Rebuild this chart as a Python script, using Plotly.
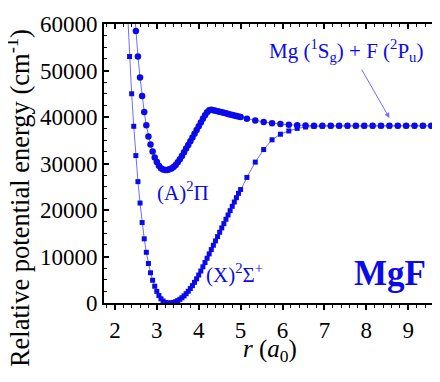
import plotly.graph_objects as go

# X(2Sigma+) state
r_X = [2.30, 2.35, 2.40, 2.45, 2.50, 2.55, 2.60, 2.65, 2.70, 2.75, 2.80, 2.85, 2.90, 2.95,
       3.00, 3.05, 3.10, 3.15, 3.20, 3.25, 3.30, 3.35, 3.40, 3.45, 3.50, 3.55, 3.60, 3.65,
       3.70, 3.75, 3.80, 3.85, 3.90, 3.95, 4.00, 4.05, 4.10, 4.15, 4.20, 4.25, 4.30, 4.35,
       4.40, 4.45, 4.50, 4.55, 4.60, 4.65, 4.70, 4.75, 4.80, 4.85, 4.90, 4.95, 5.00,
       5.15, 5.35, 5.55, 5.75, 5.95, 6.15, 6.35, 6.55, 6.75, 6.95, 7.15, 7.35, 7.55, 7.75,
       7.95, 8.15, 8.35, 8.55, 8.75, 8.95, 9.15, 9.35, 9.55, 9.75]
E_X = [63000, 53000, 45000, 38000, 31700, 26100, 21500, 17300, 13800, 10900, 8500, 6500, 4900, 3600,
       2500, 1600, 900, 420, 130, 15, 0, 30, 130, 290, 510, 790, 1130, 1530,
       2000, 2520, 3100, 3740, 4440, 5200, 6010, 6880, 7780, 8700, 9630, 10560, 11490, 12420,
       13350, 14280, 15210, 16140, 17070, 18000, 18930, 19860, 20790, 21720, 22650, 23580, 24400,
       27000, 30300, 33000, 35100, 36300, 37000, 37550, 37850, 38000, 38050, 38080, 38100, 38100, 38100,
       38100, 38100, 38100, 38100, 38100, 38100, 38100, 38100, 38100, 38100]

# A(2Pi) state
r_A = [2.45, 2.50, 2.55, 2.60, 2.65, 2.70, 2.75, 2.80, 2.85, 2.90, 2.95,
       3.00, 3.05, 3.10, 3.15, 3.20, 3.25, 3.30, 3.35, 3.40, 3.45, 3.50, 3.55, 3.60, 3.65,
       3.70, 3.75, 3.80, 3.85, 3.90, 3.95, 4.00, 4.05, 4.10, 4.15, 4.20, 4.25, 4.30, 4.35,
       4.40, 4.45, 4.50, 4.55, 4.60, 4.65, 4.70, 4.75, 4.80, 4.85, 4.90, 4.95, 5.00,
       5.15, 5.35, 5.55, 5.75, 5.95, 6.15, 6.35, 6.55, 6.75, 6.95, 7.15, 7.35, 7.55, 7.75,
       7.95, 8.15, 8.35, 8.55, 8.75, 8.95, 9.15, 9.35, 9.55, 9.75]
E_A = [65000, 58500, 53000, 48500, 44500, 41100, 38200, 35800, 34100, 32600, 31300,
       30300, 29500, 29000, 28700, 28580, 28620, 28750, 28950, 29250, 29700, 30250, 30900, 31600, 32400,
       33200, 34000, 34800, 35600, 36400, 37200, 38000, 38800, 39600, 40350, 41000, 41450, 41550, 41440,
       41330, 41220, 41110, 41000, 40890, 40780, 40670, 40560, 40450, 40340, 40230, 40120, 40010,
       39600, 39250, 38950, 38650, 38480, 38330, 38230, 38170, 38130, 38110, 38100, 38100, 38100, 38100,
       38100, 38100, 38100, 38100, 38100, 38100, 38100, 38100, 38100, 38100]

x_ticks = [2, 3, 4, 5, 6, 7, 8, 9]
y_ticks = [0, 10000, 20000, 30000, 40000, 50000, 60000]

BLUE = "rgb(10,10,235)"
LINE = "rgb(110,110,255)"
FONT = "Liberation Serif"

fig = go.Figure()
fig.add_trace(go.Scatter(x=r_X, y=E_X, mode="lines+markers",
                         line=dict(color=LINE, width=1),
                         marker=dict(symbol="square", size=5, color=BLUE),
                         showlegend=False, hoverinfo="skip"))
fig.add_trace(go.Scatter(x=r_A, y=E_A, mode="lines+markers",
                         line=dict(color=LINE, width=1),
                         marker=dict(symbol="circle", size=6.5, color=BLUE),
                         showlegend=False, hoverinfo="skip"))
# dummy trace to anchor the top axis
fig.add_trace(go.Scatter(x=[None], y=[None], xaxis="x2", yaxis="y", showlegend=False,
                         hoverinfo="skip"))

xr = [1.74, 9.71]
# page body has an 8px margin, so the figure is 8px smaller on each axis
fig.update_layout(
    width=432, height=374,
    margin=dict(l=96, r=2, t=16, b=79, autoexpand=False),
    paper_bgcolor="white", plot_bgcolor="white",
    font=dict(family=FONT, size=23, color="black"),
    xaxis=dict(range=xr, tickvals=x_ticks, ticks="outside", ticklen=5, tickwidth=1.5,
               tickcolor="black", showline=True, linewidth=2, linecolor="black", mirror=True,
               showgrid=False, zeroline=False, automargin=False,
               minor=dict(dtick=0.2, ticks="outside", ticklen=3, tickwidth=1.2, tickcolor="black"),
               tickfont=dict(family=FONT, size=23)),
    xaxis2=dict(range=xr, overlaying="x", side="top", anchor="y", tickvals=x_ticks,
                ticks="inside", ticklen=5, tickwidth=1.5, tickcolor="black", automargin=False,
                showticklabels=False, showline=False, showgrid=False, zeroline=False,
                minor=dict(dtick=0.2, ticks="inside", ticklen=3, tickwidth=1.2, tickcolor="black")),
    yaxis=dict(range=[0, 60000], tickvals=y_ticks, tickformat="d", ticks="inside", ticklen=5,
               tickwidth=1.5, tickcolor="black", showline=True, linewidth=2, linecolor="black",
               mirror="ticks", showgrid=False, zeroline=False, automargin=False,
               minor=dict(dtick=2500, ticks="inside", ticklen=3, tickwidth=1.2, tickcolor="black"),
               tickfont=dict(family=FONT, size=23)),
)

ann = []
ann.append(dict(xref="paper", yref="paper", x=-0.2575, y=0.376, textangle=-90,
                text="Relative potential energy (cm<sup>-1</sup>)", showarrow=False,
                font=dict(family=FONT, size=26.5, color="black"), xanchor="center", yanchor="middle"))
ann.append(dict(xref="paper", yref="paper", x=0.497, y=-0.172,
                text="<i>r</i> (<i>a</i><sub>0</sub>)", showarrow=False,
                font=dict(family=FONT, size=25, color="black"), xanchor="center", yanchor="middle"))
ann.append(dict(x=3.62, y=23900, text="(A)<sup>2</sup>Π", showarrow=False,
                font=dict(family=FONT, size=21, color=BLUE), xanchor="center", yanchor="middle"))
ann.append(dict(x=4.86, y=6300, text="(X)<sup>2</sup>Σ<sup>+</sup>", showarrow=False,
                font=dict(family=FONT, size=21, color=BLUE), xanchor="center", yanchor="middle"))
ann.append(dict(x=9.48, y=6300, text="<b>MgF</b>", showarrow=False,
                font=dict(family=FONT, size=35, color=BLUE), xanchor="right", yanchor="middle"))
ann.append(dict(x=7.51, y=54300, text="Mg (<sup>1</sup>S<sub>g</sub>) + F (<sup>2</sup>P<sub>u</sub>)",
                showarrow=False, font=dict(family=FONT, size=21, color=BLUE),
                xanchor="center", yanchor="middle"))
ann.append(dict(x=8.55, y=39800, ax=7.87, ay=50500, axref="x", ayref="y", text="",
                showarrow=True, arrowhead=2, arrowsize=1, arrowwidth=1, arrowcolor=LINE,
                standoff=0))
fig.update_layout(annotations=ann)

fig.write_html("out.html")
